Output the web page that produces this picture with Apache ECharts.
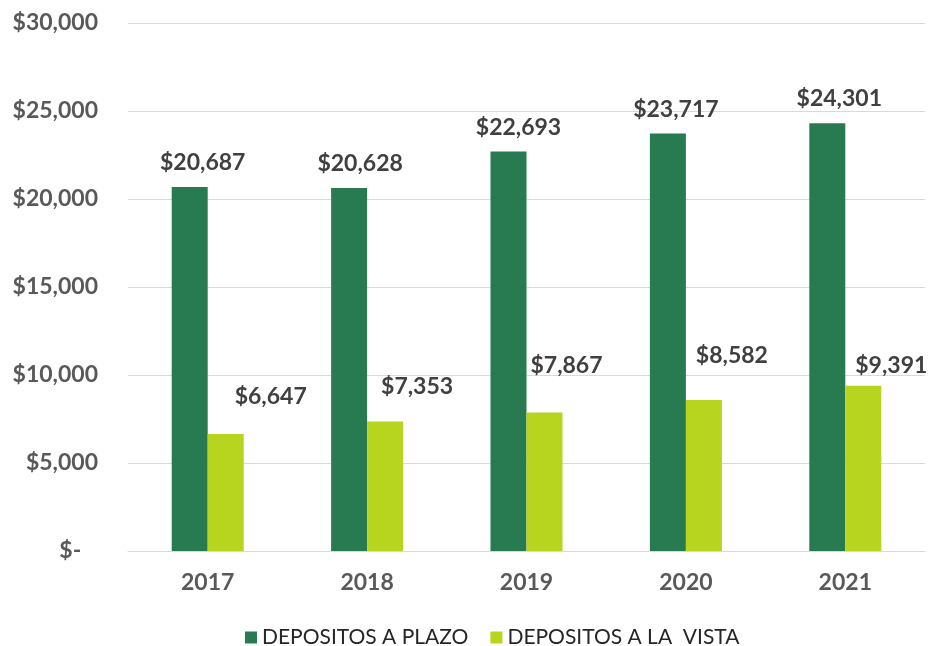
<!DOCTYPE html>
<html>
<head>
<meta charset="utf-8">
<script src="https://cdn.jsdelivr.net/npm/echarts@6/dist/echarts.min.js"></script>
<style>
  html, body { margin: 0; padding: 0; background: #fff; }
  #chart { width: 931px; height: 646px; }
</style>
</head>
<body>
<div id="chart"></div>
<script>
  // datos
  var years = ['2017', '2018', '2019', '2020', '2021'];
  var plazo = [20687, 20628, 22693, 23717, 24301];
  var vista = [6647, 7353, 7867, 8582, 9391];
  var seriesNames = ['DEPOSITOS A PLAZO', 'DEPOSITOS A LA  VISTA'];

  // posiciones de etiquetas (movidas a mano en el original)
  var plazoLabelOffset = [[13, 0], [11, 0], [10, 0], [8, 0], [12, 0]];
  var vistaLabelOffset = [[45, -13], [32, -11], [22, -22], [28, -20], [28, 4]];

  var FONT = 'Lato';

  function money(v) {
    if (v === 0) return '$-   ';
    return '$' + v.toLocaleString('en-US');
  }

  function withOffsets(vals, offs) {
    return vals.map(function (v, i) {
      return { value: v, label: { offset: offs[i] } };
    });
  }

  var labelStyle = {
    show: true,
    position: 'top',
    distance: 13,
    formatter: function (p) { return money(p.value); },
    fontFamily: FONT,
    fontWeight: 'bold',
    fontSize: 23,
    color: '#404040'
  };

  var myChart = echarts.init(document.getElementById('chart'));
  var option = {
    animation: false,
    grid: { left: 128, right: 6, top: 23, bottom: 95 },
    legend: {
      top: 622,
      left: 240,
      itemWidth: 12,
      itemHeight: 12,
      itemGap: 22,
      icon: 'rect',
      textStyle: { fontFamily: FONT, fontSize: 21, color: '#262626' },
      data: seriesNames
    },
    xAxis: {
      type: 'category',
      data: years,
      axisTick: { show: false },
      axisLine: { lineStyle: { color: '#D9D9D9', width: 1 } },
      axisLabel: {
        margin: 20,
        fontFamily: FONT,
        fontWeight: 'bold',
        fontSize: 23,
        color: '#595959'
      }
    },
    yAxis: {
      type: 'value',
      min: 0,
      max: 30000,
      interval: 5000,
      axisLine: { show: false },
      axisTick: { show: false },
      splitLine: { lineStyle: { color: '#D9D9D9', width: 1 } },
      axisLabel: {
        margin: 30,
        formatter: money,
        fontFamily: FONT,
        fontWeight: 'bold',
        fontSize: 23,
        color: '#595959'
      }
    },
    series: [
      {
        name: seriesNames[0],
        type: 'bar',
        barWidth: 36,
        barGap: '0%',
        data: withOffsets(plazo, plazoLabelOffset),
        itemStyle: { color: '#287B50' },
        label: labelStyle
      },
      {
        name: seriesNames[1],
        type: 'bar',
        barWidth: 36,
        barGap: '0%',
        data: withOffsets(vista, vistaLabelOffset),
        itemStyle: { color: '#B7D51F' },
        label: labelStyle
      }
    ]
  };
  myChart.setOption(option);
</script>
</body>
</html>
